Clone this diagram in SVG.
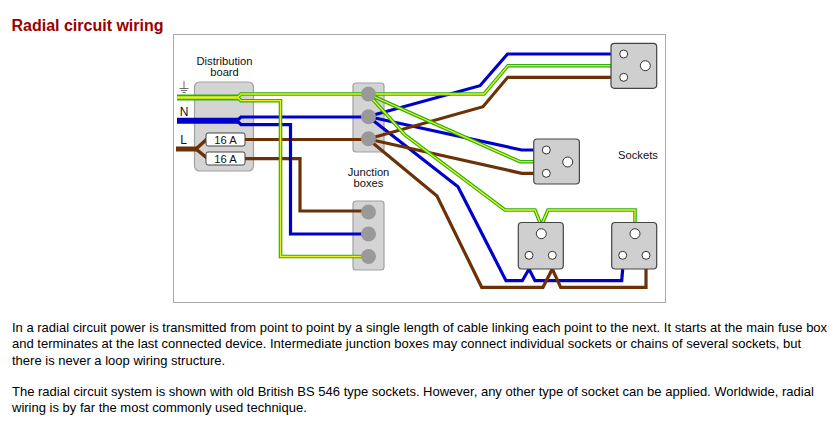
<svg xmlns="http://www.w3.org/2000/svg" width="834" height="440" viewBox="0 0 834 440">
<style>
text{font-family:"Liberation Sans",Arial,sans-serif;fill:#111}
.lb{font-size:11.2px;text-anchor:middle}
.p{font-size:13px;fill:#000}
.w{fill:none;stroke-linejoin:miter}
.bl{stroke:#0000cc;stroke-width:3.200}
.br{stroke:#6b3208;stroke-width:3.200}
.ge{stroke:#28b010;stroke-width:3.600}
.ye{stroke:#f0f020;stroke-width:1.300}
.box{fill:#d4d4d4;stroke:#a0a0a0;stroke-width:1.200}
.t{fill:#999}
.s{fill:#cfcfcf;stroke:#444;stroke-width:1.200}
.h{fill:#fff;stroke:#333;stroke-width:1}
.fuse{fill:#fff;stroke:#444;stroke-width:1}
</style>
<rect width="834" height="440" fill="#fff"/>
<text x="11.500" y="31" style="font-size:16px;font-weight:bold;fill:#990000">Radial circuit wiring</text>
<rect x="173.500" y="34.500" width="492" height="268" fill="#fff" stroke="#aaa"/>
<g id="distribution-board"><rect class="box" x="194.500" y="82" width="59" height="89" rx="5"/></g>
<g id="junction-box-1"><rect class="box" x="353" y="83" width="31" height="69" rx="3"/></g>
<g id="junction-box-2"><rect class="box" x="353" y="201" width="31" height="69" rx="3"/></g>
<g id="connectors">
<path class="w br" d="M245 139.500H368M245 158.700H300V211H368"/>
<path class="w br" style="stroke-width:5" d="M176 149H197"/>
<path class="w br" style="stroke-width:3.500" d="M196 149L207 139M196 149L207 158"/>
<path class="w bl" d="M237 120.700L241 117H368M237 120.700L241 124.700H290.500V234H368"/>
<path class="w bl" style="stroke-width:6" d="M177 120.700H238"/>
<path class="w bl" d="M368 116.500L480 85.700L507.500 54H611M368 116.500L521.700 150H534M368 116.500L458 186.700L506 280.700H522.300L529 269L535 280.700H621.700L622.700 269"/>
<path class="w br" d="M368 139L483 106.700L507.700 77.300H611M368 139L521.700 173.300H534M368 139L437 196L481.700 287.300H543L552.300 269L560.700 287.300H646V269"/>
<path class="w ge" d="M237.500 97.500L241 94H484L508 65.700H611M237.500 97.500L241 100.700H280.500V256.500H368M368 94L520 161.700H534M368 94L405 135L505 210H535L540 222.500M542.700 222.500L548 210H635V222.500"/>
<path class="w ye" d="M237.500 97.500L241 94H484L508 65.700H611M237.500 97.500L241 100.700H280.500V256.500H368M368 94L520 161.700H534M368 94L405 135L505 210H535L540 222.500M542.700 222.500L548 210H635V222.500"/>
<path class="w" style="stroke:#28b010;stroke-width:6" d="M177 97.500H238"/>
<path class="w" style="stroke:#f0f020;stroke-width:2.500" d="M177 97.500H238"/>
</g>
<g id="terminals-1"><circle class="t" cx="368.500" cy="94" r="7.500"/><circle class="t" cx="368.500" cy="116.700" r="7.500"/><circle class="t" cx="368.500" cy="138.700" r="7.500"/></g>
<g id="terminals-2"><circle class="t" cx="368.500" cy="212" r="7.500"/><circle class="t" cx="368.500" cy="234" r="7.500"/><circle class="t" cx="368.500" cy="256.500" r="7.500"/></g>
<g id="fuse-1"><rect class="fuse" x="206" y="133" width="39" height="13" rx="2"/><text class="lb" x="225.500" y="143.500">16 A</text></g>
<g id="fuse-2"><rect class="fuse" x="206" y="152" width="39" height="13" rx="2"/><text class="lb" x="225.500" y="162.500">16 A</text></g>
<g id="socket-1"><rect class="s" x="611" y="43.300" width="45.700" height="45" rx="3.500"/><circle class="h" cx="623.700" cy="54" r="4"/><circle class="h" cx="623.700" cy="77.300" r="4"/><circle class="h" cx="645.300" cy="65.700" r="5"/></g>
<g id="socket-2"><rect class="s" x="533.700" y="139" width="45.700" height="45" rx="3.500"/><circle class="h" cx="546.300" cy="150" r="4"/><circle class="h" cx="546.300" cy="173.300" r="4"/><circle class="h" cx="567.700" cy="162" r="5"/></g>
<g id="socket-3"><rect class="s" x="518.300" y="222.500" width="45" height="46.500" rx="3.500"/><circle class="h" cx="541.300" cy="233.700" r="5"/><circle class="h" cx="529" cy="255.300" r="4"/><circle class="h" cx="552.300" cy="255.300" r="4"/></g>
<g id="socket-4"><rect class="s" x="611.700" y="222.500" width="45" height="46.500" rx="3.500"/><circle class="h" cx="635" cy="233.700" r="5"/><circle class="h" cx="622.700" cy="255.300" r="4"/><circle class="h" cx="646" cy="255.300" r="4"/></g>
<g id="earth-symbol"><path d="M184 81V88.500M179.500 88.500H188.500M181 90.500H187M182.500 92.500H185.500" fill="none" stroke="#444" stroke-width=".8"/></g>
<text class="lb" x="224.500" y="65">Distribution</text>
<text class="lb" x="224.500" y="76">board</text>
<text class="lb" x="184" y="116" style="font-size:12px">N</text>
<text class="lb" x="183.500" y="144" style="font-size:12px">L</text>
<text class="lb" x="368.500" y="176">Junction</text>
<text class="lb" x="368.500" y="187">boxes</text>
<text class="lb" x="638" y="158.500">Sockets</text>
<text class="p" x="12" y="332">In a radial circuit power is transmitted from point to point by a single length of cable linking each point to the next. It starts at the main fuse box</text>
<text class="p" x="12" y="348">and terminates at the last connected device. Intermediate junction boxes may connect individual sockets or chains of several sockets, but</text>
<text class="p" x="12" y="365">there is never a loop wiring structure.</text>
<text class="p" x="12" y="396">The radial circuit system is shown with old British BS 546 type sockets. However, any other type of socket can be applied. Worldwide, radial</text>
<text class="p" x="12" y="412">wiring is by far the most commonly used technique.</text>
</svg>
